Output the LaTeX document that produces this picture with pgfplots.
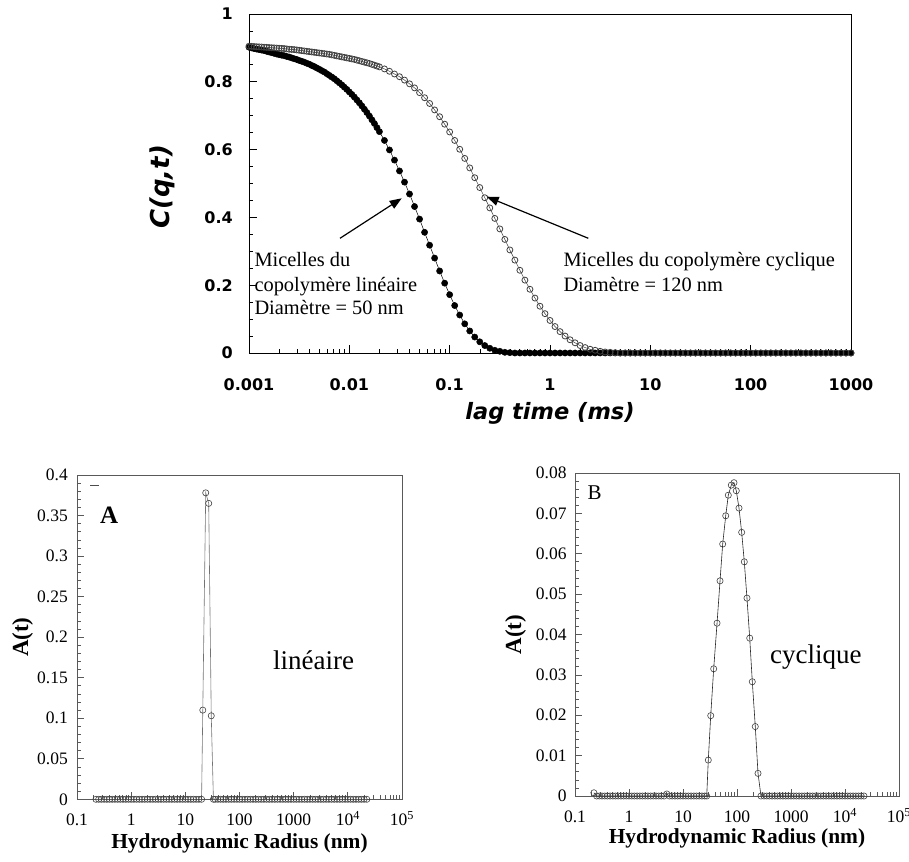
\documentclass[border=0pt]{standalone}
\usepackage{fontspec}
\setmainfont{Liberation Serif}
\newfontfamily\dv{DejaVu Sans}
\usepackage{pgfplots}
\pgfplotsset{compat=1.18}
\usepackage{pgfplotstable}
\usetikzlibrary{arrows.meta}

\pgfplotstableread{
x y
0.001 0.902
0.001059 0.900
0.001122 0.898
0.001189 0.8965
0.001259 0.895
0.001334 0.8935
0.001413 0.892
0.001496 0.890
0.001585 0.888
0.001679 0.886
0.001778 0.884
0.001884 0.882
0.001995 0.880
0.002113 0.8785
0.002239 0.877
0.002371 0.8748
0.002512 0.873
0.002661 0.8705
0.002818 0.868
0.002985 0.8659
0.003162 0.863
0.003350 0.8606
0.003548 0.858
0.003758 0.8548
0.003981 0.852
0.004217 0.8482
0.004467 0.845
0.004732 0.8410
0.005012 0.837
0.005309 0.8329
0.005623 0.829
0.005957 0.8240
0.006310 0.819
0.006683 0.8141
0.007079 0.809
0.007499 0.8031
0.007943 0.797
0.008414 0.7910
0.008913 0.784
0.009441 0.7775
0.01 0.770
0.01059 0.7628
0.01122 0.755
0.01189 0.7464
0.01259 0.738
0.01334 0.7286
0.01413 0.719
0.01496 0.7093
0.01585 0.699
0.01679 0.6879
0.01778 0.677
0.01884 0.6648
0.01995 0.653
0.02239 0.627
0.02512 0.599
0.02818 0.569
0.03162 0.537
0.03548 0.504
0.03981 0.469
0.04467 0.432
0.05012 0.395
0.05623 0.356
0.06310 0.318
0.07079 0.280
0.07943 0.242
0.08913 0.206
0.1 0.172
0.1122 0.140
0.1259 0.112
0.1413 0.086
0.1585 0.065
0.1778 0.047
0.1995 0.033
0.2239 0.022
0.2512 0.014
0.2818 0.008
0.3162 0.005
0.3548 0.002
0.3981 0.001
0.4467 0
0.5012 0
0.5623 0
0.6310 0
0.7079 0
0.7943 0
0.8913 0
1 0
1.122 0
1.259 0
1.413 0
1.585 0
1.778 0
1.995 0
2.239 0
2.512 0
2.818 0
3.162 0
3.548 0
3.981 0
4.467 0
5.012 0
5.623 0
6.310 0
7.079 0
7.943 0
8.913 0
10 0
11.22 0
12.59 0
14.13 0
15.85 0
17.78 0
19.95 0
22.39 0
25.12 0
28.18 0
31.62 0
35.48 0
39.81 0
44.67 0
50.12 0
56.23 0
63.10 0
70.79 0
79.43 0
89.13 0
100 0
112.2 0
125.9 0
141.3 0
158.5 0
177.8 0
199.5 0
223.9 0
251.2 0
281.8 0
316.2 0
354.8 0
398.1 0
446.7 0
501.2 0
562.3 0
631.0 0
707.9 0
794.3 0
891.3 0
1000 0
}\linear

\pgfplotstableread{
x y
0.001 0.905
0.001059 0.9045
0.001122 0.904
0.001189 0.9035
0.001259 0.903
0.001334 0.9025
0.001413 0.902
0.001496 0.9015
0.001585 0.901
0.001679 0.9005
0.001778 0.900
0.001884 0.8995
0.001995 0.899
0.002113 0.8985
0.002239 0.898
0.002371 0.897
0.002512 0.896
0.002661 0.8955
0.002818 0.895
0.002985 0.894
0.003162 0.893
0.003350 0.892
0.003548 0.891
0.003758 0.890
0.003981 0.889
0.004217 0.888
0.004467 0.887
0.004732 0.886
0.005012 0.885
0.005309 0.884
0.005623 0.883
0.005957 0.882
0.006310 0.881
0.006683 0.8795
0.007079 0.878
0.007499 0.8765
0.007943 0.875
0.008414 0.8735
0.008913 0.872
0.009441 0.8705
0.01 0.869
0.01059 0.8675
0.01122 0.866
0.01189 0.864
0.01259 0.862
0.01334 0.860
0.01413 0.858
0.01496 0.856
0.01585 0.854
0.01679 0.8515
0.01778 0.849
0.01884 0.8465
0.01995 0.844
0.02239 0.838
0.02512 0.831
0.02818 0.823
0.03162 0.815
0.03548 0.805
0.03981 0.794
0.04467 0.782
0.05012 0.768
0.05623 0.753
0.06310 0.736
0.07079 0.717
0.07943 0.697
0.08913 0.675
0.1 0.652
0.1122 0.627
0.1259 0.601
0.1413 0.574
0.1585 0.546
0.1778 0.517
0.1995 0.488
0.2239 0.458
0.2512 0.428
0.2818 0.397
0.3162 0.366
0.3548 0.335
0.3981 0.304
0.4467 0.274
0.5012 0.244
0.5623 0.215
0.6310 0.188
0.7079 0.162
0.7943 0.138
0.8913 0.116
1 0.096
1.122 0.078
1.259 0.063
1.413 0.050
1.585 0.039
1.778 0.030
1.995 0.022
2.239 0.016
2.512 0.011
2.818 0.008
3.162 0.005
3.548 0.003
3.981 0.002
4.467 0.001
5.012 0
5.623 0
6.310 0
7.079 0
7.943 0
8.913 0
10 0
11.22 0
12.59 0
14.13 0
15.85 0
17.78 0
19.95 0
22.39 0
25.12 0
28.18 0
31.62 0
35.48 0
39.81 0
44.67 0
50.12 0
56.23 0
63.10 0
70.79 0
79.43 0
89.13 0
100 0
112.2 0
125.9 0
141.3 0
158.5 0
177.8 0
199.5 0
223.9 0
251.2 0
281.8 0
316.2 0
354.8 0
398.1 0
446.7 0
501.2 0
562.3 0
631.0 0
707.9 0
794.3 0
891.3 0
1000 0
}\cyclic

\pgfplotstableread{
x y
0.2239 0
0.2512 0
0.2818 0
0.3162 0
0.3548 0
0.3981 0
0.4467 0
0.5012 0
0.5623 0
0.6310 0
0.7079 0
0.7943 0
0.8913 0
1 0
1.122 0
1.259 0
1.413 0
1.585 0
1.778 0
1.995 0
2.239 0
2.512 0
2.818 0
3.162 0
3.548 0
3.981 0
4.467 0
5.012 0
5.623 0
6.310 0
7.079 0
7.943 0
8.913 0
10 0
11.22 0
12.59 0
14.13 0
15.85 0
17.78 0
19.95 0
21.0 0.110
23.8 0.378
27.0 0.365
30.1 0.103
33.0 0
35.48 0
39.81 0
44.67 0
50.12 0
56.23 0
63.10 0
70.79 0
79.43 0
89.13 0
100 0
112.2 0
125.9 0
141.3 0
158.5 0
177.8 0
199.5 0
223.9 0
251.2 0
281.8 0
316.2 0
354.8 0
398.1 0
446.7 0
501.2 0
562.3 0
631.0 0
707.9 0
794.3 0
891.3 0
1000 0
1122 0
1259 0
1413 0
1585 0
1778 0
1995 0
2239 0
2512 0
2818 0
3162 0
3548 0
3981 0
4467 0
5012 0
5623 0
6310 0
7079 0
7943 0
8913 0
10000 0
11220 0
12590 0
14130 0
15850 0
17780 0
19950 0
22390 0
}\distA

\pgfplotstableread{
x y
0.2239 0.0008
0.2512 0
0.2818 0
0.3162 0
0.3548 0
0.3981 0
0.4467 0
0.5012 0
0.5623 0
0.6310 0
0.7079 0
0.7943 0
0.8913 0
1 0
1.122 0
1.259 0
1.413 0
1.585 0
1.778 0
1.995 0
2.239 0
2.512 0
2.818 0
3.162 0
3.548 0
3.981 0
4.467 0
5.012 0.0005
5.623 0
6.310 0
7.079 0
7.943 0
8.913 0
10 0
11.22 0
12.59 0
14.13 0
15.85 0
17.78 0
19.95 0
22.39 0
25.12 0
27.5 0
29.4 0.0089
32.6 0.0199
37.0 0.0315
42.7 0.0428
48.5 0.0533
54.3 0.0624
61.8 0.0694
69.0 0.0745
78.4 0.0770
87.9 0.0776
97.0 0.0756
108.9 0.0713
122 0.0653
136.5 0.0580
153 0.0490
172 0.0391
192 0.0283
218 0.0172
245 0.0056
278 0
316.2 0
354.8 0
398.1 0
446.7 0
501.2 0
562.3 0
631.0 0
707.9 0
794.3 0
891.3 0
1000 0
1122 0
1259 0
1413 0
1585 0
1778 0
1995 0
2239 0
2512 0
2818 0
3162 0
3548 0
3981 0
4467 0
5012 0
5623 0
6310 0
7079 0
7943 0
8913 0
10000 0
11220 0
12590 0
14130 0
15850 0
17780 0
19950 0
22390 0
}\distB

\begin{document}
\begin{tikzpicture}
\path[use as bounding box] (0pt,0pt) rectangle (909pt,861pt);

% ---------- top: correlation functions ----------
\begin{axis}[
  at={(249pt,508pt)}, anchor=south west, scale only axis, clip=false,
  width=602pt, height=339pt,
  xmode=log, xmin=0.001, xmax=1000, ymin=0, ymax=1,
  scaled y ticks=false,
  xtick={0.001,0.01,0.1,1,10,100,1000},
  xticklabels={0.001,0.01,0.1,1,10,100,1000},
  minor xtick={0.002,0.003,0.004,0.005,0.006,0.007,0.008,0.009,0.02,0.03,0.04,0.05,0.06,0.07,0.08,0.09,0.2,0.3,0.4,0.5,0.6,0.7,0.8,0.9,2,3,4,5,6,7,8,9,20,30,40,50,60,70,80,90,200,300,400,500,600,700,800,900},
  ytick={0,0.2,0.4,0.6,0.8,1},
  yticklabels={0,0.2,0.4,0.6,0.8,1},
  minor y tick num=3,
  tick pos=left, tick align=inside,
  major tick length=7.7pt, minor tick length=4.3pt,
  axis line style={black, line width=0.8pt},
  tick style={black, line width=0.7pt},
  ticklabel style={font=\dv\bfseries\fontsize{16}{19}\selectfont, inner sep=0pt},
  xticklabel style={anchor=base, yshift=-37.8pt},
  yticklabel style={anchor=east, xshift=-16pt},
  xlabel={lag time (ms)},
  ylabel={C(q,t)},
  xlabel style={font=\dv\bfseries\itshape\fontsize{22.5}{26}\selectfont,
    at={(axis description cs:0.5,-0.177)}, anchor=center, inner sep=0pt},
  ylabel style={font=\dv\bfseries\itshape\fontsize{26}{30}\selectfont,
    at={(axis description cs:-0.1445,0.49)}, anchor=center, inner sep=0pt},
]
\addplot[black, line width=0.5pt, mark=*, mark size=3.1pt,
  mark options={fill=black, draw=black}] table {\linear};
\addplot[black!75, line width=0.5pt, mark=o, mark size=3.0pt,
  mark options={draw=black!75, line width=0.8pt}] table {\cyclic};
\end{axis}

\node[anchor=base west, inner sep=0pt, font=\fontsize{20.4}{24}\selectfont] at (254.3pt,594.3pt) {Micelles du};
\node[anchor=base west, inner sep=0pt, font=\fontsize{20.4}{24}\selectfont] at (254.3pt,569.5pt) {copolymère linéaire};
\node[anchor=base west, inner sep=0pt, font=\fontsize{20.4}{24}\selectfont] at (254.3pt,546pt) {Diamètre = 50 nm};
\node[anchor=base west, inner sep=0pt, font=\fontsize{20.4}{24}\selectfont] at (563.3pt,594.3pt) {Micelles du copolymère cyclique};
\node[anchor=base west, inner sep=0pt, font=\fontsize{20.4}{24}\selectfont] at (563.3pt,569.5pt) {Diamètre = 120 nm};
\draw[line width=1.2pt, -{Triangle[length=12pt,width=9pt]}] (340pt,622.7pt) -- (401.7pt,662.7pt);
\draw[line width=1.2pt, -{Triangle[length=12pt,width=9pt]}] (588.3pt,622.7pt) -- (486.7pt,664.3pt);

% ---------- bottom left: A ----------
\begin{axis}[
  at={(77pt,61.7pt)}, anchor=south west, scale only axis, clip=false,
  width=325pt, height=324.3pt,
  xmode=log, xmin=0.1, xmax=100000, ymin=0, ymax=0.4,
  scaled y ticks=false,
  xtick={0.1,1,10,100,1000,10000,100000},
  xticklabels={0.1,1,10,100,1000,10\textsuperscript{4},10\textsuperscript{5}},
  minor xtick={0.2,0.3,0.4,0.5,0.6,0.7,0.8,0.9,2,3,4,5,6,7,8,9,20,30,40,50,60,70,80,90,200,300,400,500,600,700,800,900,2000,3000,4000,5000,6000,7000,8000,9000,20000,30000,40000,50000,60000,70000,80000,90000},
  ytick={0,0.05,0.1,0.15,0.2,0.25,0.3,0.35,0.4},
  yticklabels={0,0.05,0.1,0.15,0.2,0.25,0.3,0.35,0.4},
  minor y tick num=4,
  tick pos=left, tick align=inside,
  major tick length=7pt, minor tick length=4.3pt,
  axis line style={black!65, line width=0.8pt},
  tick style={black!65, line width=0.7pt},
  ticklabel style={font=\fontsize{17.5}{20}\selectfont, inner sep=0pt},
  xticklabel style={anchor=base, yshift=-26.6pt},
  yticklabel style={anchor=east, xshift=-9pt},
  xlabel={Hydrodynamic Radius (nm)},
  ylabel={A(t)},
  xlabel style={font=\bfseries\fontsize{21.4}{24}\selectfont, anchor=center, inner sep=0pt,
    at={(axis description cs:0.5,-0.1347)}},
  ylabel style={font=\bfseries\fontsize{23}{26}\selectfont, anchor=center, inner sep=0pt,
    at={(axis description cs:-0.1677,0.5)}},
]
\addplot[black!55, line width=0.6pt, mark=o, mark size=3.1pt,
  mark options={draw=black!75, line width=0.6pt}] table {\distA};
\end{axis}
\node[anchor=base west, inner sep=0pt, font=\bfseries\fontsize{25}{28}\selectfont] at (100pt,337.7pt) {A};
\node[anchor=base west, inner sep=0pt, font=\fontsize{27}{30}\selectfont] at (273pt,191pt) {linéaire};
\draw[black!70, line width=0.8pt] (90pt,376pt) -- (99pt,376pt);

% ---------- bottom right: B ----------
\begin{axis}[
  at={(575pt,65pt)}, anchor=south west, scale only axis, clip=false,
  width=324pt, height=323pt,
  xmode=log, xmin=0.1, xmax=100000, ymin=0, ymax=0.08,
  scaled y ticks=false,
  xtick={0.1,1,10,100,1000,10000,100000},
  xticklabels={0.1,1,10,100,1000,10\textsuperscript{4},10\textsuperscript{5}},
  minor xtick={0.2,0.3,0.4,0.5,0.6,0.7,0.8,0.9,2,3,4,5,6,7,8,9,20,30,40,50,60,70,80,90,200,300,400,500,600,700,800,900,2000,3000,4000,5000,6000,7000,8000,9000,20000,30000,40000,50000,60000,70000,80000,90000},
  ytick={0,0.01,0.02,0.03,0.04,0.05,0.06,0.07,0.08},
  yticklabels={0,0.01,0.02,0.03,0.04,0.05,0.06,0.07,0.08},
  minor y tick num=4,
  tick pos=left, tick align=inside,
  major tick length=7pt, minor tick length=4.3pt,
  axis line style={black!65, line width=0.8pt},
  tick style={black!65, line width=0.7pt},
  ticklabel style={font=\fontsize{17.5}{20}\selectfont, inner sep=0pt},
  xticklabel style={anchor=base, yshift=-26.6pt},
  yticklabel style={anchor=east, xshift=-8.3pt},
  xlabel={Hydrodynamic Radius (nm)},
  ylabel={A(t)},
  xlabel style={font=\bfseries\fontsize{21.4}{24}\selectfont, anchor=center, inner sep=0pt,
    at={(axis description cs:0.5,-0.131)}},
  ylabel style={font=\bfseries\fontsize{23}{26}\selectfont, anchor=center, inner sep=0pt,
    at={(axis description cs:-0.1836,0.5)}},
]
\addplot[black!85, line width=0.6pt, mark=o, mark size=3.1pt,
  mark options={draw=black!75, line width=0.6pt}] table {\distB};
\end{axis}
\node[anchor=base west, inner sep=0pt, font=\fontsize{21}{24}\selectfont] at (587.3pt,361pt) {B};
\node[anchor=base west, inner sep=0pt, font=\fontsize{27}{30}\selectfont] at (770pt,197.7pt) {cyclique};
\end{tikzpicture}
\end{document}
